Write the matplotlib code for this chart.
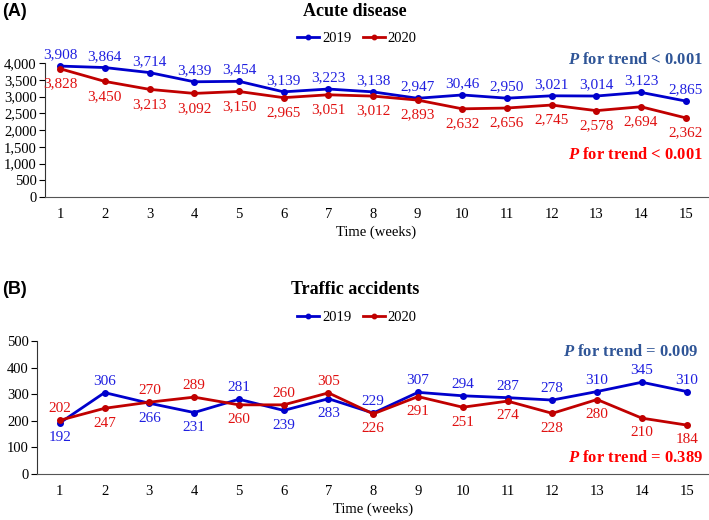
import matplotlib.pyplot as plt
import numpy as np

plt.rcParams['font.family'] = ['Liberation Serif', 'DejaVu Serif']
plt.rcParams['mathtext.fontset'] = 'custom'
plt.rcParams['mathtext.rm'] = 'Liberation Serif'
plt.rcParams['mathtext.it'] = 'Liberation Serif:italic'
plt.rcParams['mathtext.bf'] = 'Liberation Serif:bold'
plt.rcParams['mathtext.bfit'] = 'Liberation Serif:italic:bold'

weeks = list(range(1, 16))
acute_2019 = [3908, 3864, 3714, 3439, 3454, 3139, 3223, 3138, 2947, 3046, 2950, 3021, 3014, 3123, 2865]
acute_2020 = [3828, 3450, 3213, 3092, 3150, 2965, 3051, 3012, 2893, 2632, 2656, 2745, 2578, 2694, 2362]
acute_lbl_2019 = ['3,908', '3,864', '3,714', '3,439', '3,454', '3,139', '3,223', '3,138',
                  '2,947', '30,46', '2,950', '3,021', '3,014', '3,123', '2,865']
traffic_2019 = [192, 306, 266, 231, 281, 239, 283, 229, 307, 294, 287, 278, 310, 345, 310]
traffic_2020 = [202, 247, 270, 289, 260, 260, 305, 226, 291, 251, 274, 228, 280, 210, 184]
# +1 = label above the point, -1 = below
traffic_pos_2019 = [-1, 1, -1, -1, 1, -1, -1, 1, 1, 1, 1, 1, 1, 1, 1]
traffic_pos_2020 = [1, -1, 1, 1, -1, 1, 1, -1, -1, -1, -1, -1, -1, -1, -1]

BLUE_LINE = '#0000CC'
RED_LINE = '#C00000'
BLUE_TXT = '#1F1FE0'
RED_TXT = '#E01010'
P_BLUE = '#2F5597'
P_RED = '#FF0000'

W, H = 709, 520
fig = plt.figure(figsize=(W / 100, H / 100), dpi=100)


def fx(px):
    return px / W


def fy(py):
    return 1 - py / H


def label_points(ax, xs, ys, labels, pos, color):
    for x, y, s, p in zip(xs, ys, labels, pos):
        ax.annotate(s, (x, y), xytext=(0, 3.5 if p > 0 else -6), textcoords='offset points',
                    ha='center', va='bottom' if p > 0 else 'top',
                    fontsize=11, color=color, annotation_clip=False)


def style_axes(ax):
    ax.spines['top'].set_visible(False)
    ax.spines['right'].set_visible(False)
    ax.spines['left'].set_color('#333333')
    ax.spines['bottom'].set_color('#555555')
    ax.tick_params(axis='x', length=0, labelsize=10.5, pad=8)
    ax.tick_params(axis='y', length=4, labelsize=10.5, pad=2)
    ax.set_xticks(weeks)


# ---- panel A ----
ax1 = fig.add_axes([fx(45), fy(197), fx(708) - fx(45), fy(63) - fy(197)])
ax1.plot(weeks, acute_2019, '-o', color=BLUE_LINE, lw=2, ms=4, label='2019')
ax1.plot(weeks, acute_2020, '-o', color=RED_LINE, lw=2, ms=4, label='2020')
ax1.set_ylim(0, 4000)
ax1.set_xlim(0.66, 15.5)
ax1.set_yticks(np.arange(0, 4001, 500))
ax1.set_yticklabels([f'{v:,}' for v in range(0, 4001, 500)])
style_axes(ax1)
label_points(ax1, weeks, acute_2019, acute_lbl_2019, [1] * 15, BLUE_TXT)
label_points(ax1, weeks, acute_2020, [f'{v:,}' for v in acute_2020], [-1] * 15, RED_TXT)
ax1.set_xlabel('Time (weeks)', fontsize=10.5, labelpad=3)

# ---- panel B ----
ax2 = fig.add_axes([fx(37), fy(474), fx(709) - fx(37), fy(341) - fy(474)])
ax2.plot(weeks, traffic_2019, '-o', color=BLUE_LINE, lw=2, ms=4, label='2019')
ax2.plot(weeks, traffic_2020, '-o', color=RED_LINE, lw=2, ms=4, label='2020')
ax2.set_ylim(0, 500)
ax2.set_xlim(0.49, 15.5)
ax2.set_yticks(np.arange(0, 501, 100))
style_axes(ax2)
label_points(ax2, weeks, traffic_2019, [str(v) for v in traffic_2019], traffic_pos_2019, BLUE_TXT)
label_points(ax2, weeks, traffic_2020, [str(v) for v in traffic_2020], traffic_pos_2020, RED_TXT)
ax2.set_xlabel('Time (weeks)', fontsize=10.5, labelpad=3)

# titles, panel letters, legends
for letter, title, ty, ly, ax in [('(A)', 'Acute disease', 12, 38, ax1),
                                  ('(B)', 'Traffic accidents', 290, 317, ax2)]:
    fig.text(fx(2), fy(ty), letter, fontsize=13, fontweight='bold',
             family=['Liberation Sans', 'DejaVu Sans'], ha='left', va='center')
    fig.text(fx(355), fy(ty), title, fontsize=13, fontweight='bold', ha='center', va='center')
    ax.legend(loc='center', bbox_to_anchor=(fx(357), fy(ly)), bbox_transform=fig.transFigure,
              ncol=2, frameon=False, fontsize=10.5, handlelength=1.5, handletextpad=0.2,
              columnspacing=0.8, markerscale=0.8)

# trend annotations
for txt, px, py, col in [('< 0.001', 703, 60, P_BLUE), ('< 0.001', 703, 155, P_RED),
                         ('= 0.009', 698, 352, P_BLUE), ('= 0.389', 703, 458, P_RED)]:
    fig.text(fx(px), fy(py), f'$\\mathbfit{{P}}$ for trend {txt}', fontsize=12,
             fontweight='bold', color=col, ha='right', va='center')

fig.savefig('out.png', dpi=100)
